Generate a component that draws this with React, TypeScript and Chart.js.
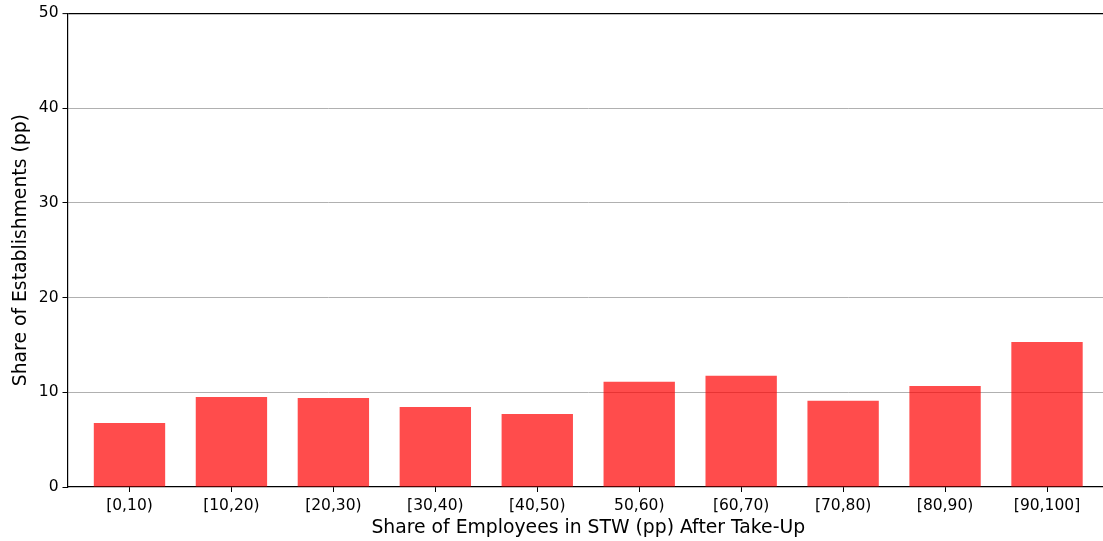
import React, { useEffect, useRef } from "react";
import { Chart, registerables } from "chart.js";

Chart.register(...registerables);

const categories = ["[0,10)", "[10,20)", "[20,30)", "[30,40)", "[40,50)", "50,60)", "[60,70)", "[70,80)", "[80,90)", "[90,100]"];
const shares = [6.75, 9.5, 9.4, 8.45, 7.7, 11.1, 11.75, 9.1, 10.65, 15.3];
const yTicks = [0, 10, 20, 30, 40, 50];
const xTitle = "Share of Employees in STW (pp) After Take-Up";
const yTitle = "Share of Establishments (pp)";

const FONT = "'DejaVu Sans', sans-serif";

export default function App() {
  const ref = useRef<HTMLCanvasElement | null>(null);
  useEffect(() => {
    document.body.style.margin = "0";
    document.body.style.overflow = "hidden";
    const canvas = ref.current!;
    const chart = new Chart(canvas, {
      type: "bar",
      data: {
        datasets: [
          {
            data: shares.map((v, i) => ({ x: i, y: v })),
            backgroundColor: "rgba(255,0,0,0.7)",
            borderWidth: 0,
            barPercentage: 0.7,
            categoryPercentage: 1.0,
          },
        ],
      },
      options: {
        animation: false,
        responsive: false,
        devicePixelRatio: 1,
        layout: { padding: { top: 13, right: 11, left: 0, bottom: 0 } },
        plugins: { legend: { display: false }, tooltip: { enabled: false } },
        scales: {
          x: {
            type: "linear",
            offset: false,
            min: -0.608,
            max: 9.608,
            afterBuildTicks: (s: any) => {
              s.ticks = categories.map((_, i) => ({ value: i }));
            },
            afterFit: (s: any) => {
              s.height = 54;
            },
            ticks: {
              callback: (v: any) => categories[Math.round(Number(v))] ?? "",
              color: "#000",
              font: { family: FONT, size: 15.5 },
              padding: 5,
              maxRotation: 0,
              autoSkip: false,
            },
            grid: { offset: false, drawOnChartArea: false, drawTicks: true, tickLength: 5, tickColor: "#000", tickWidth: 1 },
            border: { display: true, color: "#000", width: 1.2 },
            title: { display: true, text: xTitle, color: "#000", font: { family: FONT, size: 18.8 }, padding: { top: 0, bottom: 2 } },
          },
          y: {
            type: "linear",
            min: 0,
            max: 50,
            afterBuildTicks: (s: any) => {
              s.ticks = yTicks.map((v) => ({ value: v }));
            },
            afterFit: (s: any) => {
              s.width = 67.5;
            },
            ticks: {
              color: "#000",
              font: { family: FONT, size: 15.5 },
              padding: 4,
            },
            grid: {
              color: (c: any) => (c.tick && c.tick.value === 50 ? "#000" : c.tick && c.tick.value === 0 ? "rgba(0,0,0,0)" : "#b0b0b0"),
              lineWidth: (c: any) => (c.tick && c.tick.value === 50 ? 1.2 : 1),
              tickLength: 5,
              tickColor: "#000",
              tickWidth: 1,
            },
            border: { display: true, color: "#000", width: 1.2 },
            title: { display: true, text: yTitle, color: "#000", font: { family: FONT, size: 18.8 }, padding: { top: 10, bottom: 4 } },
          },
        },
      },
    } as any);
    return () => chart.destroy();
  }, []);
  return (
    <div style={{ position: "fixed", left: 0, top: 0, width: 1103, height: 541, overflow: "hidden", background: "#fff" }}>
      <canvas ref={ref} width={1120} height={541} style={{ width: 1120, height: 541, display: "block" }} />
    </div>
  );
}
